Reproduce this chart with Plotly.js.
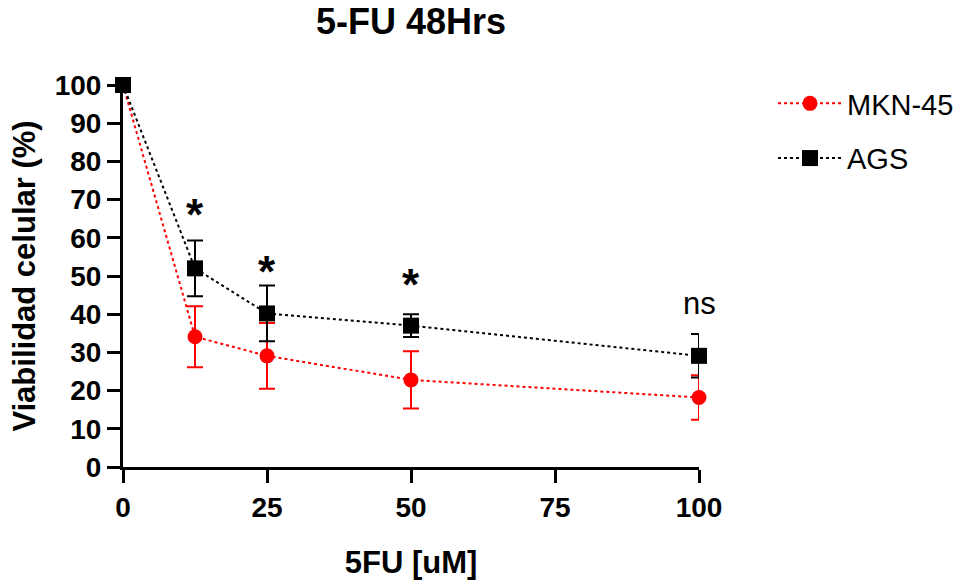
<!DOCTYPE html>
<html>
<head>
<meta charset="utf-8">
<script src="https://cdn.plot.ly/plotly-3.0.1.min.js"></script>
<style>html,body{margin:0;padding:0;background:#fff;}#chart{width:969px;height:583px;}</style>
</head>
<body>
<div id="chart"></div>
<script>
// Data
const doses = [0, 12.5, 25, 50, 100];
const mknValues = [100, 34.1, 29.1, 22.8, 18.2];
const mknErrors = [0, 8.0, 8.6, 7.5, 5.8];
const agsValues = [100, 52.0, 40.2, 37.0, 29.1];
const agsErrors = [0, 7.3, 7.3, 3.0, 5.7];
const xTicks = [0, 25, 50, 75, 100];
const yTicks = [0, 10, 20, 30, 40, 50, 60, 70, 80, 90, 100];
const sigX = [12.5, 25, 50, 100];
const sigY = [66.0, 51.1, 47.7, 42.7];
const sigLabels = ['*', '*', '*', 'ns'];

const FONT = 'Liberation Sans, Arial, sans-serif';

const traces = [
  {
    x: doses, y: mknValues, name: 'MKN-45', type: 'scatter', mode: 'lines+markers',
    legendgroup: 'a',
    line: {color: '#ff0000', width: 2, dash: '3px,3px'},
    marker: {symbol: 'circle', size: 15, color: '#ff0000'},
    error_y: {type: 'data', array: mknErrors, visible: true, color: '#ff0000', thickness: 2, width: 8},
    cliponaxis: false
  },
  {
    x: doses, y: agsValues, name: 'AGS', type: 'scatter', mode: 'lines+markers',
    legendgroup: 'b',
    line: {color: '#000000', width: 2, dash: '3px,3px'},
    marker: {symbol: 'square', size: 16, color: '#000000'},
    error_y: {type: 'data', array: agsErrors, visible: true, color: '#000000', thickness: 2, width: 8},
    cliponaxis: false
  }
];

const annotations = sigX.map((x, i) => ({
  x: x, y: sigY[i], xref: 'x', yref: 'y', text: sigLabels[i], showarrow: false,
  xanchor: 'center', yanchor: 'middle',
  font: sigLabels[i] === '*' ? {family: FONT, size: 44, color: '#000', weight: 700} : {family: FONT, size: 31, color: '#000'}
}));

const layout = {
  width: 969, height: 583,
  margin: {l: 123, r: 270, t: 85, b: 116},
  paper_bgcolor: '#fff', plot_bgcolor: '#fff',
  font: {family: FONT, color: '#000'},
  title: {
    text: '5-FU 48Hrs', x: 0.5, xref: 'paper', xanchor: 'center',
    y: 1 - 21 / 583, yref: 'container', yanchor: 'middle',
    font: {family: FONT, size: 36, weight: 700, color: '#000'}
  },
  xaxis: {
    range: [0, 100], tickvals: xTicks, ticktext: xTicks.map(String),
    showgrid: false, zeroline: false, showline: true, linecolor: '#000', linewidth: 3,
    ticks: 'outside', ticklen: 13, tickwidth: 3, tickcolor: '#000',
    tickfont: {family: FONT, size: 28, weight: 700, color: '#000'},
    title: {text: '5FU [uM]', standoff: 30, font: {family: FONT, size: 31, weight: 700, color: '#000'}}
  },
  yaxis: {
    range: [0, 100], tickvals: yTicks, ticktext: yTicks.map(String),
    showgrid: false, zeroline: false, showline: true, linecolor: '#000', linewidth: 3,
    ticks: 'outside', ticklen: 13, tickwidth: 3, tickcolor: '#000',
    tickfont: {family: FONT, size: 28, weight: 700, color: '#000'},
    title: {text: 'Viabilidad celular (%)', standoff: 10, font: {family: FONT, size: 31, weight: 700, color: '#000'}}
  },
  showlegend: true,
  legend: {
    x: 773 / 969, xref: 'container', xanchor: 'left',
    y: 1 - 78 / 583, yref: 'container', yanchor: 'top',
    font: {family: FONT, size: 29, color: '#000'},
    traceorder: 'grouped', tracegroupgap: 14,
    bgcolor: 'rgba(0,0,0,0)', itemwidth: 64
  },
  annotations: annotations
};

Plotly.newPlot('chart', traces, layout, {displayModeBar: false, staticPlot: true});
</script>
</body>
</html>
